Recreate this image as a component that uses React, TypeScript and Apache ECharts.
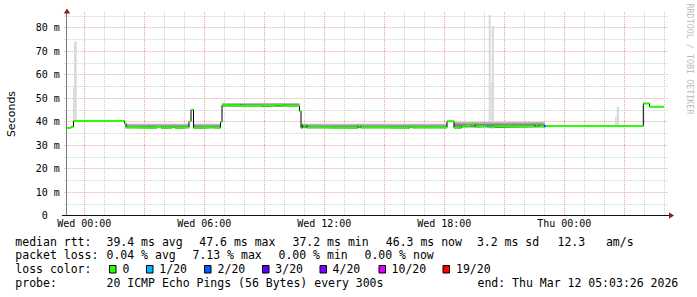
import React, { useEffect, useRef } from 'react';
import * as echarts from 'echarts';

// ---- axis ticks (hours relative to Wed 00:00) ----
const xTickHours = [0, 6, 12, 18, 24];
const xTickLabels = ['Wed 00:00', 'Wed 06:00', 'Wed 12:00', 'Wed 18:00', 'Thu 00:00'];
const yTickValues = [0, 10, 20, 30, 40, 50, 60, 70, 80];
const yTickLabels = ['0', '10 m', '20 m', '30 m', '40 m', '50 m', '60 m', '70 m', '80 m'];

// ---- median rtt (ms), step segments: start hour, value, loss colour index ----
const medianStart = [
  -0.865, -0.665, -0.54, 2.01, 2.085, 2.785, 3.635, 3.835, 4.385, 4.535, 4.935, 5.235, 5.335, 5.46,
  6.035, 6.435, 6.81, 6.885, 7.785, 8.885, 9.535, 9.935, 10.76, 10.835, 10.91, 11.135, 12.285,
  13.685, 13.835, 15.285, 16.285, 16.435, 18.135, 18.485, 18.86, 19.085, 19.335, 19.535, 19.785,
  20.085, 20.16, 20.235, 20.535, 22.535, 22.735, 22.99, 23.085, 27.95, 28.26,
];
const medianValue = [
  37.2, 37.8, 40.2, 39.2, 37.4, 37.3, 37.7, 37.3, 37.8, 37.3, 37.5, 40.0, 45.0, 37.3,
  37.5, 37.3, 39.8, 46.9, 46.6, 46.8, 47.1, 46.6, 44.5, 37.3, 38.5, 37.4, 37.3,
  38.2, 37.4, 37.3, 37.9, 37.4, 40.1, 37.3, 37.9, 38.3, 38.8, 37.8, 38.0,
  38.2, 38.0, 37.6, 37.9, 38.8, 38.0, 38.0, 38.1, 47.7, 46.3,
];
const medianLoss = [
  0, 0, 0, 0, 0, 0, 0, 0, 0, 0, 0, 0, 0, 0,
  0, 0, 0, 0, 0, 0, 0, 0, 0, 0, 0, 0, 0,
  0, 0, 0, 0, 0, 0, 0, 0, 0, 0, 0, 0,
  0, 1, 0, 0, 0, 0, 2, 0, 0, 0,
];
const medianEnd = 28.985;

// ---- smoke (ping spread) bands ----
const smokeStart = [2.085, 5.46, 6.885, 10.835, 18.485];
const smokeEnd = [5.235, 6.81, 10.76, 18.135, 23.03];
const smokeLow = [37.1, 37.1, 46.2, 37.1, 37.4];
const smokeCore = [38.3, 38.3, 47.3, 38.3, 39.0];
const smokeHigh = [39.0, 39.0, 47.9, 39.0, 39.8];

// ---- outlier pings (max) ----
const spikeStart = [-0.565, -0.515, 20.22, 20.32, 20.37, 26.535, 26.62];
const spikeEnd = [-0.515, -0.38, 20.32, 20.37, 20.485, 26.62, 26.735];
const spikeLow = [40.2, 40.2, 38.0, 38.0, 38.0, 38.1, 38.1];
const spikeHigh = [54.1, 74.0, 85.3, 56.4, 80.6, 41.9, 46.3];

// ---- legend ----
const lossColors = ['#26ff00', '#00b8ff', '#0059ff', '#5e00ff', '#7e00ff', '#dd00ff', '#ff0000'];
const lossLabels = ['0', '1/20', '2/20', '3/20', '4/20', '10/20', '19/20'];
const rttStats = ['39.4 ms avg', '47.6 ms max', '37.2 ms min', '46.3 ms now', '3.2 ms sd'];
const lossStats = ['0.04 % avg', '7.13 % max', '0.00 % min', '0.00 % now'];
const amsValue = '12.3';
const probeText = '20 ICMP Echo Pings (56 Bytes) every 300s';
const endText = 'end: Thu Mar 12 05:03:26 2026';

const MONO = '"DejaVu Sans Mono", monospace';
const MAJOR = '#e6a4a4';
const MINOR = '#cdcdcd';

function rectItem(fill: string) {
  return (params: any, api: any) => {
    const p0 = api.coord([api.value(0), api.value(3)]);
    const p1 = api.coord([api.value(1), api.value(2)]);
    return {
      type: 'rect',
      shape: { x: p0[0], y: p0[1], width: p1[0] - p0[0], height: p1[1] - p0[1] },
      style: { fill },
    };
  };
}

export default function App() {
  const ref = useRef<HTMLDivElement>(null);
  useEffect(() => {
    if (!ref.current) return;
    const chart = echarts.init(ref.current, undefined, { renderer: 'svg' });

    const stepData: any[] = medianStart.map((s, i) => [s, medianValue[i]]);
    stepData.push([medianEnd, medianValue[medianValue.length - 1]]);
    const segData = medianStart.map((s, i) => [
      s,
      i + 1 < medianStart.length ? medianStart[i + 1] : medianEnd,
      medianValue[i],
      medianLoss[i],
    ]);
    const smokeOuter = smokeStart.map((s, i) => [s, smokeEnd[i], smokeLow[i], smokeHigh[i]]);
    const smokeInner = smokeStart.map((s, i) => [s, smokeEnd[i], smokeLow[i] + 0.2, smokeCore[i]]);
    const spikes = spikeStart.map((s, i) => [s, spikeEnd[i], spikeLow[i], spikeHigh[i]]);

    const txt = (text: string, x: number, y: number, extra: any = {}) => ({
      type: 'text',
      x,
      y,
      z: 100,
      style: {
        text,
        fill: '#000',
        fontFamily: MONO,
        fontSize: 11.5,
        verticalAlign: 'middle',
        align: 'left',
        ...extra,
      },
    });

    const row1 = 241.5, row2 = 255, row3 = 269.3, row4 = 282.7;
    const rttX = [106.5, 199.3, 292.5, 385.8, 476.9];
    const lossX = [106.5, 192.5, 278.5, 364.5];
    const boxX = [109, 146, 204, 262, 319.5, 378.5, 442.5];
    const boxTextX = [122.6, 159.3, 217.6, 275.3, 332.6, 391.6, 456];

    const graphics: any[] = [
      // axes
      { type: 'line', z: 100, shape: { x1: 66.5, y1: 215.5, x2: 66.5, y2: 13 }, style: { stroke: '#777', lineWidth: 1 } },
      { type: 'line', z: 100, shape: { x1: 62, y1: 215.5, x2: 669, y2: 215.5 }, style: { stroke: '#111', lineWidth: 1 } },
      { type: 'polygon', z: 101, shape: { points: [[67, 8.5], [63.8, 13.5], [70.2, 13.5]] }, style: { fill: '#8b1e1e' } },
      { type: 'polygon', z: 101, shape: { points: [[674, 215.5], [669, 212.3], [669, 218.7]] }, style: { fill: '#8b1e1e' } },
      txt('Seconds', 11, 114, { align: 'center', fontFamily: '"DejaVu Sans", sans-serif', fontSize: 11 }),
      txt('RRDTOOL / TOBI OETIKER', 690, 59, { align: 'center', fill: '#bdbdbd', fontSize: 8.4 }),
      txt('median rtt:', 15.3, row1),
      ...rttStats.map((t, i) => txt(t, rttX[i], row1)),
      txt(amsValue, 557.5, row1),
      txt('am/s', 605.9, row1),
      txt('packet loss:', 15.3, row2),
      ...lossStats.map((t, i) => txt(t, lossX[i], row2)),
      txt('loss color:', 15.3, row3),
      ...lossColors.map((c, i) => ({
        type: 'rect',
        z: 100,
        shape: { x: boxX[i] + 0.5, y: 265.5, width: 6.5, height: 7.5 },
        style: { fill: c, stroke: '#000', lineWidth: 1 },
      })),
      ...lossLabels.map((t, i) => txt(t, boxTextX[i], row3)),
      txt('probe:', 15.3, row4),
      txt(probeText, 106.5, row4),
      txt(endText, 477.5, row4),
    ];
    // rotate the vertical texts
    graphics[4].rotation = Math.PI / 2;
    graphics[5].rotation = -Math.PI / 2;

    const option: any = {
      animation: false,
      backgroundColor: '#ffffff',
      grid: {
        left: 64.3,
        top: 12,
        width: 603,
        height: 203.5,
        containLabel: false,
        outerBoundsMode: 'none',
      },
      xAxis: {
        type: 'value',
        min: -1,
        max: 29.15,
        interval: 1,
        axisLine: { show: false },
        axisTick: { show: false },
        axisLabel: {
          margin: 3,
          color: '#000',
          fontFamily: MONO,
          fontSize: 10,
          hideOverlap: false,
          formatter: (v: number) => {
            const k = xTickHours.findIndex((h) => Math.abs(h - v) < 1e-6);
            return k >= 0 ? xTickLabels[k] : '';
          },
        },
        splitLine: {
          show: true,
          showMinLine: false,
          showMaxLine: false,
          lineStyle: { color: [MAJOR, MINOR, MINOR], width: 1, type: [1, 1] },
        },
      },
      yAxis: {
        type: 'value',
        min: 0,
        max: 86.6,
        interval: 5,
        axisLine: { show: false },
        axisTick: { show: false },
        axisLabel: {
          margin: 4.5,
          color: '#000',
          fontFamily: MONO,
          fontSize: 10,
          showMaxLabel: false,
          formatter: (v: number) => {
            const k = yTickValues.findIndex((h) => Math.abs(h - v) < 1e-6);
            if (k < 0) return '';
            return v === 0 ? '{z|' + yTickLabels[k] + '}' : yTickLabels[k];
          },
          rich: { z: { padding: [0, 12, 0, 0], fontFamily: MONO, fontSize: 10, color: '#000' } },
        },
        splitLine: {
          show: true,
          showMaxLine: false,
          lineStyle: { color: [MAJOR, MINOR], width: 1, type: [1, 1] },
        },
      },
      series: [
        {
          type: 'custom',
          name: 'outliers',
          renderItem: rectItem('#dadada'),
          data: spikes,
          encode: { x: [0, 1], y: [2, 3] },
          clip: true,
          z: 2,
        },
        {
          type: 'custom',
          name: 'smoke',
          renderItem: rectItem('#b8b8b8'),
          data: smokeOuter,
          encode: { x: [0, 1], y: [2, 3] },
          clip: true,
          z: 3,
        },
        {
          type: 'custom',
          name: 'smoke core',
          renderItem: rectItem('#858585'),
          data: smokeInner,
          encode: { x: [0, 1], y: [2, 3] },
          clip: true,
          z: 4,
        },
        {
          type: 'line',
          name: 'median',
          step: 'end',
          data: stepData,
          symbol: 'none',
          lineStyle: { color: '#000', width: 1 },
          z: 5,
        },
        {
          type: 'custom',
          name: 'median loss color',
          data: segData,
          encode: { x: [0, 1], y: 2 },
          clip: true,
          z: 6,
          renderItem: (params: any, api: any) => {
            const p0 = api.coord([api.value(0), api.value(2)]);
            const p1 = api.coord([api.value(1), api.value(2)]);
            return {
              type: 'line',
              shape: { x1: p0[0], y1: p0[1], x2: p1[0], y2: p1[1] },
              style: { stroke: lossColors[api.value(3)], lineWidth: 2 },
            };
          },
        },
      ],
      graphic: { elements: graphics },
    };
    chart.setOption(option);
    return () => chart.dispose();
  }, []);

  return (
    <div
      ref={ref}
      style={{ position: 'fixed', left: 0, top: 0, width: 697, height: 297, background: '#fff' }}
    />
  );
}
